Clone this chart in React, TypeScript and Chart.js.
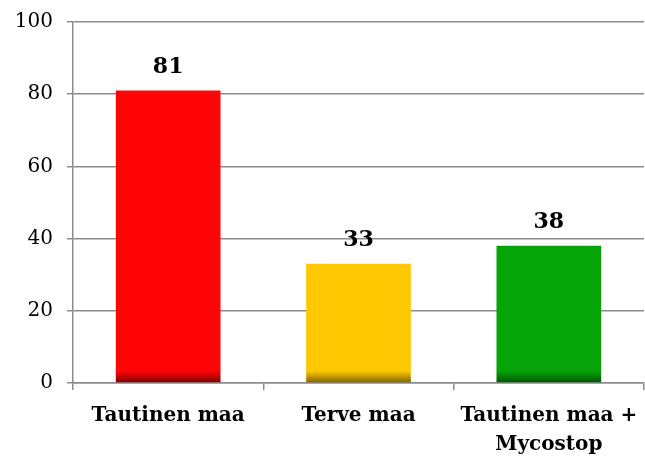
import React, { useEffect, useRef } from "react";
import { Chart, registerables } from "chart.js";

Chart.register(...registerables);

const categories: (string | string[])[] = ["Tautinen maa", "Terve maa", ["Tautinen maa +", "Mycostop"]];
const values: number[] = [81, 33, 38];
const barColors: string[] = ["#FF0505", "#FFC800", "#05A50A"];
const barDarkColors: string[] = ["#7A0000", "#806000", "#005000"];
const yTicks: number[] = [0, 20, 40, 60, 80, 100];

const FONT = "'DejaVu Serif', serif";

const valueLabelPlugin = {
  id: "valueLabels",
  afterDatasetsDraw(chart: any) {
    const ctx = chart.ctx;
    const meta = chart.getDatasetMeta(0);
    ctx.save();
    ctx.font = `bold 22px ${FONT}`;
    ctx.fillStyle = "#000";
    ctx.textAlign = "center";
    ctx.textBaseline = "alphabetic";
    meta.data.forEach((bar: any, i: number) => {
      ctx.fillText(String(values[i]), bar.x, bar.y - 18);
    });
    ctx.restore();
  },
};

export default function App() {
  const ref = useRef<HTMLCanvasElement>(null);
  useEffect(() => {
    if (!ref.current) return;
    const chart = new Chart(ref.current, {
      type: "bar",
      data: {
        labels: categories,
        datasets: [
          {
            data: values,
            backgroundColor: (c: any) => {
              const i = c.dataIndex ?? 0;
              const chart = c.chart;
              if (!chart.chartArea) return barColors[i];
              const y0 = chart.scales.y.getPixelForValue(0);
              const g = chart.ctx.createLinearGradient(0, y0 - 22, 0, y0);
              g.addColorStop(0, barColors[i]);
              g.addColorStop(0.45, barColors[i]);
              g.addColorStop(1, barDarkColors[i]);
              return g;
            },
            borderWidth: 0,
            categoryPercentage: 1,
            barPercentage: 0.55,
          },
        ],
      },
      options: {
        responsive: false,
        animation: false,
        layout: { padding: { top: 22, right: 1, left: 0, bottom: 0 } },
        plugins: { legend: { display: false }, tooltip: { enabled: false } },
        scales: {
          y: {
            min: 0,
            max: 100,
            afterBuildTicks: (s: any) => {
              s.ticks = yTicks.map((v) => ({ value: v }));
            },
            afterFit: (s: any) => {
              s.width = 73;
              s.paddingTop = 0;
              s.paddingBottom = 0;
            },
            border: { display: true, color: "#8c8c8c", width: 1.5 },
            grid: { color: "#8c8c8c", lineWidth: 1.5, tickLength: 6, drawTicks: true },
            ticks: { color: "#000", font: { family: FONT, size: 20 }, padding: 14 },
          },
          x: {
            afterFit: (s: any) => {
              s.height = 74;
              s.paddingLeft = 0;
              s.paddingRight = 0;
            },
            border: { display: true, color: "#8c8c8c", width: 1.5 },
            grid: { drawOnChartArea: false, drawTicks: true, tickLength: 7, color: "#8c8c8c", lineWidth: 1.5 },
            ticks: {
              color: "#000",
              font: { family: FONT, size: 20, weight: "bold", lineHeight: 1.45 },
              padding: 11,
              maxRotation: 0,
              autoSkip: false,
            },
          },
        },
      },
      plugins: [valueLabelPlugin],
    });
    return () => chart.destroy();
  }, []);
  return (
    <div style={{ position: "absolute", left: 0, top: 0, width: 645, height: 457, background: "#fff" }}>
      <canvas ref={ref} width={645} height={457} />
    </div>
  );
}
